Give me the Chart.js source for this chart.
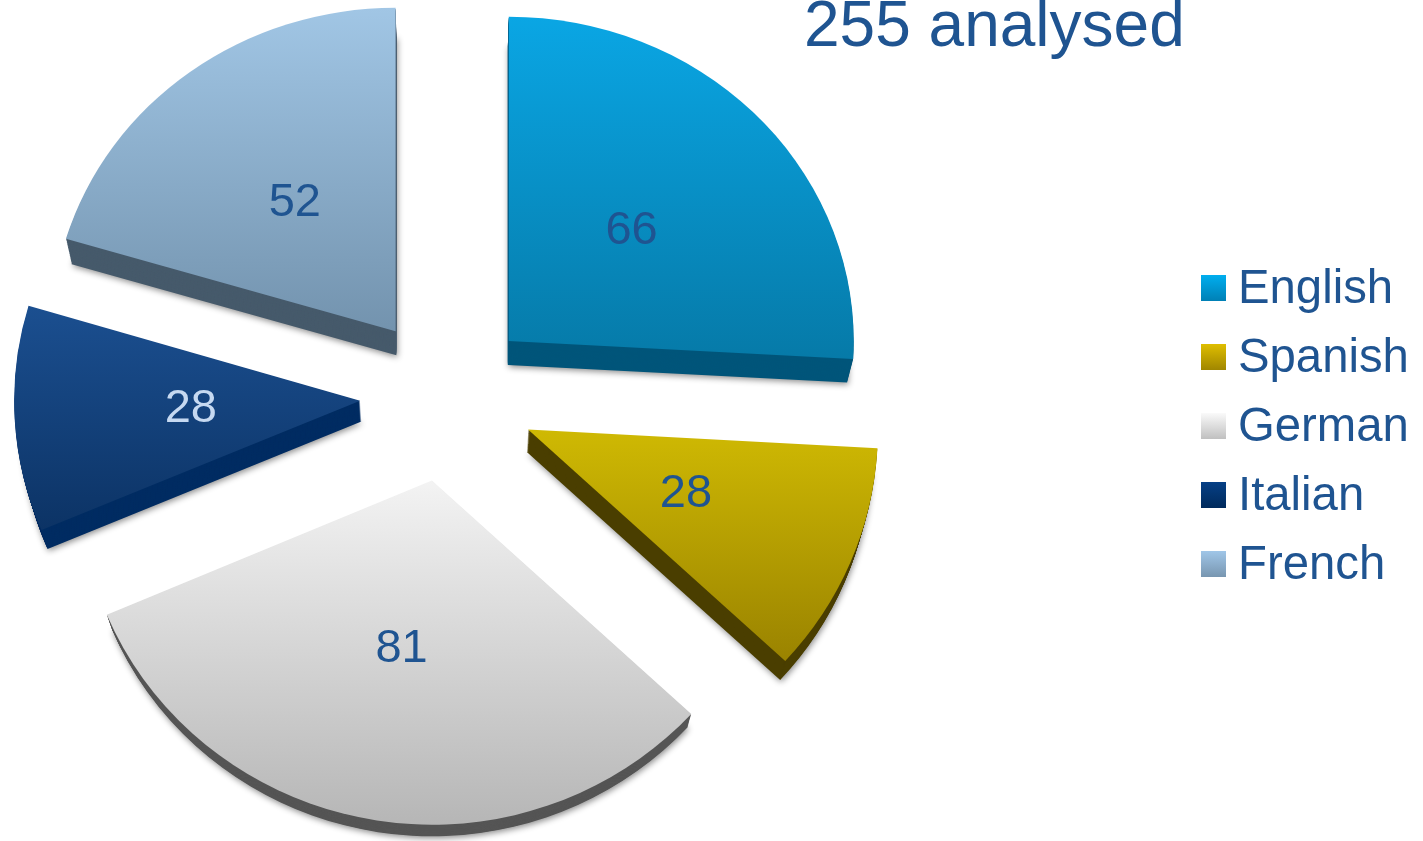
<!DOCTYPE html>
<html>
<head>
<meta charset="utf-8">
<title>255 analysed</title>
<script src="https://cdn.jsdelivr.net/npm/chart.js@4"></script>
<style>
    html, body { margin: 0; padding: 0; background: #fff; overflow: hidden; }
    #chartBox { position: relative; width: 1423px; height: 841px; }
</style>
</head>
<body>
<div id="chartBox"><canvas id="languageChart"></canvas></div>
<script>
// Data
const chartTitle = '255 analysed';
const categories = ['English', 'Spanish', 'German', 'Italian', 'French'];
const analysed = [66, 28, 81, 28, 52];

// Slice colours
const topColours = ['#0aa6e4', '#cfb903', '#f3f3f3', '#1b4f90', '#a1c6e5'];
const bottomColours = ['#067aa8', '#9a8300', '#b6b6b6', '#0c3365', '#7393ae'];
const sideColours = ['#00557a', '#4a3e00', '#555555', '#002c62', '#465a6b'];
const legendTop = ['#00aeef', '#dfbe00', '#fafafa', '#064086', '#a0c6e8'];
const legendBottom = ['#0080b5', '#a08600', '#c0c0c0', '#002a5c', '#7896b0'];
const labelColours = ['#1f5491', '#1f5491', '#1f5491', '#c6d9f1', '#1f5491'];

// Fake 3D look: explode distance, radius, vertical squash and side depth per slice
const explode = [85, 88, 88, 87, 86];
const radii = [345, 350, 353, 346, 344];
const squash = [0.94, 0.975, 0.975, 0.96, 0.94];
const depth = [23, 23, 18, 21, 23];
const labelReach = [0.49, 0.49, 0.5, 0.49, 0.49];
const textColour = '#1f5491';
const fontFamily = '"Liberation Sans", Arial, sans-serif';

const total = analysed.reduce((a, b) => a + b, 0);

function sliceGradient(ctx) {
    const i = ctx.dataIndex;
    const area = ctx.chart.chartArea;
    if (!area) return topColours[i];
    const before = analysed.slice(0, i).reduce((a, b) => a + b, 0);
    const a0 = -Math.PI / 2 + before / total * Math.PI * 2;
    const a1 = a0 + analysed[i] / total * Math.PI * 2;
    const ys = [0, radii[i] * Math.sin(a0), radii[i] * Math.sin(a1)];
    if (a0 < Math.PI / 2 && a1 > Math.PI / 2) ys.push(radii[i]);
    const mid = (a0 + a1) / 2;
    const py = (area.top + area.bottom) / 2 + Math.sin(mid) * explode[i];
    const g = ctx.chart.ctx.createLinearGradient(0, py + Math.min(...ys), 0, py + Math.max(...ys));
    g.addColorStop(0, topColours[i]);
    g.addColorStop(1, bottomColours[i]);
    return g;
}

function squashAround(ctx, cx, cy, sy) {
    ctx.translate(cx, cy);
    ctx.scale(1, sy);
    ctx.translate(-cx, -cy);
}

// wedge of one arc element, moved out by its own offset
function traceSlice(ctx, arc, i) {
    const mid = (arc.startAngle + arc.endAngle) / 2;
    const dist = arc.options.offset / 4;
    const px = arc.x + Math.cos(mid) * dist;
    const py = arc.y + Math.sin(mid) * dist;
    ctx.beginPath();
    ctx.moveTo(px, py);
    ctx.arc(px, py, radii[i], arc.startAngle, arc.endAngle);
    ctx.closePath();
}

const extrudedSlices = {
    id: 'extrudedSlices',
    beforeDatasetDraw(chart, args) {
        const ctx = chart.ctx;
        args.meta.data.forEach((arc, i) => {
            // side wall, deepest copy first so that it carries the soft shadow
            for (let k = depth[i]; k >= 1; k--) {
                const t = k / depth[i];
                ctx.save();
                squashAround(ctx, arc.x, arc.y, squash[i]);
                ctx.translate(arc.x, arc.y + k / squash[i]);
                ctx.scale(1 - 0.015 * t, 1 - 0.015 * t);
                ctx.translate(-arc.x, -arc.y);
                if (k === depth[i]) {
                    ctx.shadowColor = 'rgba(0,0,0,0.45)';
                    ctx.shadowBlur = 6;
                    ctx.shadowOffsetX = 1;
                    ctx.shadowOffsetY = 2;
                }
                ctx.fillStyle = sideColours[i];
                traceSlice(ctx, arc, i);
                ctx.fill();
                ctx.restore();
            }

            // top face
            ctx.save();
            squashAround(ctx, arc.x, arc.y, squash[i]);
            ctx.fillStyle = arc.options.backgroundColor;
            traceSlice(ctx, arc, i);
            ctx.fill();
            ctx.restore();
        });
        return false;
    },
    afterDraw(chart) {
        const ctx = chart.ctx;
        const meta = chart.getDatasetMeta(0);
        ctx.save();

        // value labels, half way along each slice
        ctx.textAlign = 'center';
        ctx.textBaseline = 'middle';
        ctx.font = '47px ' + fontFamily;
        meta.data.forEach((arc, i) => {
            const mid = (arc.startAngle + arc.endAngle) / 2;
            const dist = explode[i] + radii[i] * labelReach[i];
            const x = arc.x + Math.cos(mid) * dist;
            const y = arc.y + Math.sin(mid) * dist * squash[i];
            ctx.fillStyle = labelColours[i];
            ctx.fillText(analysed[i], x, y - 1);
        });

        // title
        ctx.textBaseline = 'alphabetic';
        ctx.textAlign = 'left';
        ctx.fillStyle = textColour;
        ctx.font = '64px ' + fontFamily;
        ctx.fillText(chartTitle, 804, 46);

        // legend
        ctx.font = '47.3px ' + fontFamily;
        categories.forEach((name, i) => {
            const y = 275 + i * 69;
            const g = ctx.createLinearGradient(0, y, 0, y + 26);
            g.addColorStop(0, legendTop[i]);
            g.addColorStop(1, legendBottom[i]);
            ctx.fillStyle = g;
            ctx.fillRect(1201, y, 25, 26);
            ctx.fillStyle = textColour;
            ctx.fillText(name, 1238, y + 28);
        });
        ctx.restore();
    }
};

document.addEventListener('DOMContentLoaded', function() {
    new Chart(document.getElementById('languageChart'), {
        type: 'pie',
        data: {
            labels: categories,
            datasets: [{
                data: analysed,
                backgroundColor: sliceGradient,
                borderWidth: 0,
                // the library's arc offset is four times the distance moved
                offset: explode.map(d => d * 4)
            }]
        },
        options: {
            responsive: true,
            maintainAspectRatio: false,
            animation: false,
            radius: 345,
            layout: { padding: { right: 529, bottom: 49 } },
            plugins: {
                legend: { display: false },
                title: { display: false },
                tooltip: { enabled: false }
            }
        },
        plugins: [extrudedSlices]
    });
});
</script>
</body>
</html>
